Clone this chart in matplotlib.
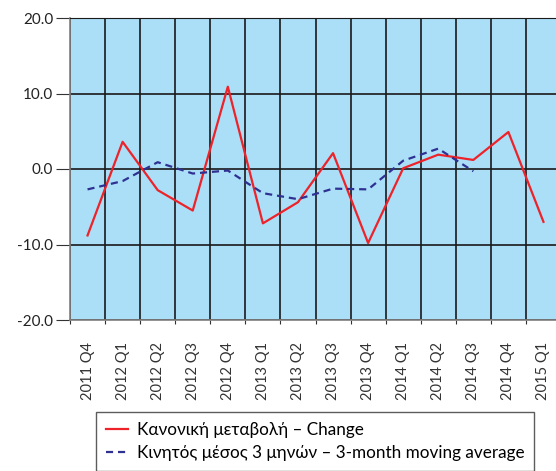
import matplotlib
matplotlib.use("Agg")
import matplotlib.pyplot as plt
import numpy as np

plt.rcParams['font.family'] = ['Lato', 'DejaVu Sans']

quarters = ["2011 Q4", "2012 Q1", "2012 Q2", "2012 Q3", "2012 Q4", "2013 Q1",
            "2013 Q2", "2013 Q3", "2013 Q4", "2014 Q1", "2014 Q2", "2014 Q3",
            "2014 Q4", "2015 Q1"]
change = [-8.8, 3.6, -2.8, -5.5, 10.9, -7.2, -4.4, 2.1, -9.8, 0.1, 1.9, 1.2, 4.9, -7.0]
moving_avg = [-2.7, -1.6, 0.9, -0.6, -0.2, -3.2, -4.0, -2.6, -2.7, 1.1, 2.7, -0.3]

W, H = 556, 471
fig = plt.figure(figsize=(W / 100, H / 100), dpi=100)
ax = fig.add_axes([70 / W, 1 - 320 / H, 491 / W, 302 / H])
ax.set_facecolor("#ABDFF8")

x = np.arange(len(quarters))
ax.plot(x, change, color="#EE2229", lw=1.6, label="Κανονική μεταβολή – Change", zorder=3)
ax.plot(x[:len(moving_avg)], moving_avg, color="#2E3192", lw=1.6, ls=(0, (3.2, 2.2)),
        label="Κινητός μέσος 3 μηνών – 3-month moving average", zorder=3)

ax.set_xlim(-0.5, len(quarters) - 0.5)
ax.set_ylim(-20, 20)
ax.set_yticks([-20, -10, 0, 10, 20])
ax.set_yticklabels([f"{v:.1f}" for v in [-20, -10, 0, 10, 20]], fontsize=11, color="#222222")

# category boundaries as grid, labels centred in each category
ax.set_xticks(x - 0.5, minor=False)
ax.set_xticklabels([])
ax.set_xticks(x, minor=True)
ax.set_xticklabels(quarters, minor=True, rotation=90, fontsize=10.5, color="#333333")
ax.tick_params(axis="x", which="minor", length=0, pad=16)
ax.tick_params(axis="x", which="major", length=3, color="#333333")
ax.tick_params(axis="y", length=10, color="#333333", pad=2)

ax.grid(True, which="major", axis="both", color="#1a1a1a", lw=1.2, zorder=1)
ax.set_axisbelow(True)
for s in ["left", "bottom"]:
    ax.spines[s].set_color("#7f7f7f")
    ax.spines[s].set_linewidth(1.2)
ax.spines["top"].set_color("#1a1a1a")
ax.spines["right"].set_visible(False)

leg = fig.legend(loc="upper left", bbox_to_anchor=(96 / W, 1 - 412 / H, 438 / W, 0),
                 mode="expand", fontsize=12.3, frameon=True, fancybox=False,
                 edgecolor="#333333", handlelength=1.3, borderpad=0.6,
                 labelspacing=0.4, handletextpad=0.5, borderaxespad=0)
leg.get_frame().set_linewidth(1.0)

fig.savefig("out.png", dpi=100)
